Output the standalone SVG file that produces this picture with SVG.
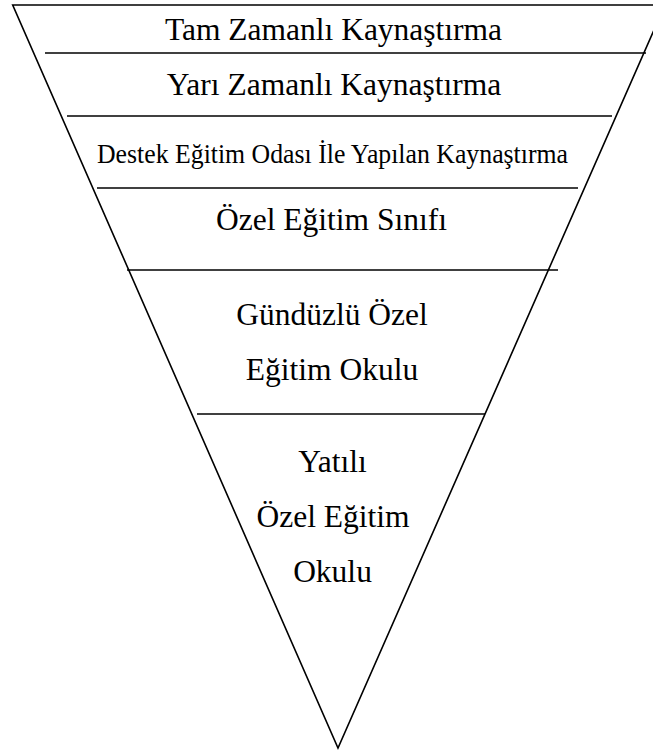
<svg xmlns="http://www.w3.org/2000/svg" width="653" height="753" viewBox="0 0 653 753">
  <style>
    .ln { stroke: #000; stroke-width: 1.6; fill: none; }
    .t { font-family: "Liberation Serif", "Times New Roman", serif; font-size: 31.5px; fill: #000; text-anchor: middle; }
    .s { font-family: "Liberation Serif", "Times New Roman", serif; font-size: 27px; fill: #000; }
  </style>
  <rect width="653" height="753" fill="#fff"/>
  <g id="frame">
    <polygon class="ln" points="12.7,5 665,5 338,748"/>
    <line class="ln" x1="45" y1="53" x2="646" y2="53"/>
    <line class="ln" x1="67" y1="116" x2="612" y2="116"/>
    <line class="ln" x1="97" y1="188" x2="578" y2="188"/>
    <line class="ln" x1="127" y1="270" x2="558" y2="270"/>
    <line class="ln" x1="197" y1="414" x2="485" y2="414"/>
  </g>
  <g id="tam-zamanli">
    <text class="t" x="333.5" y="40">Tam Zamanlı Kaynaştırma</text>
  </g>
  <g id="yari-zamanli">
    <text class="t" x="334" y="95">Yarı Zamanlı Kaynaştırma</text>
  </g>
  <g id="destek-egitim">
    <text class="s" x="97" y="163" textLength="471" lengthAdjust="spacingAndGlyphs">Destek Eğitim Odası İle Yapılan Kaynaştırma</text>
  </g>
  <g id="ozel-egitim-sinifi">
    <text class="t" x="331.5" y="230">Özel Eğitim Sınıfı</text>
  </g>
  <g id="gunduzlu">
    <text class="t" x="332" y="325">Gündüzlü Özel</text>
    <text class="t" x="332" y="380">Eğitim Okulu</text>
  </g>
  <g id="yatili">
    <text class="t" x="332.5" y="472">Yatılı</text>
    <text class="t" x="333" y="527">Özel Eğitim</text>
    <text class="t" x="332.5" y="582">Okulu</text>
  </g>
</svg>
